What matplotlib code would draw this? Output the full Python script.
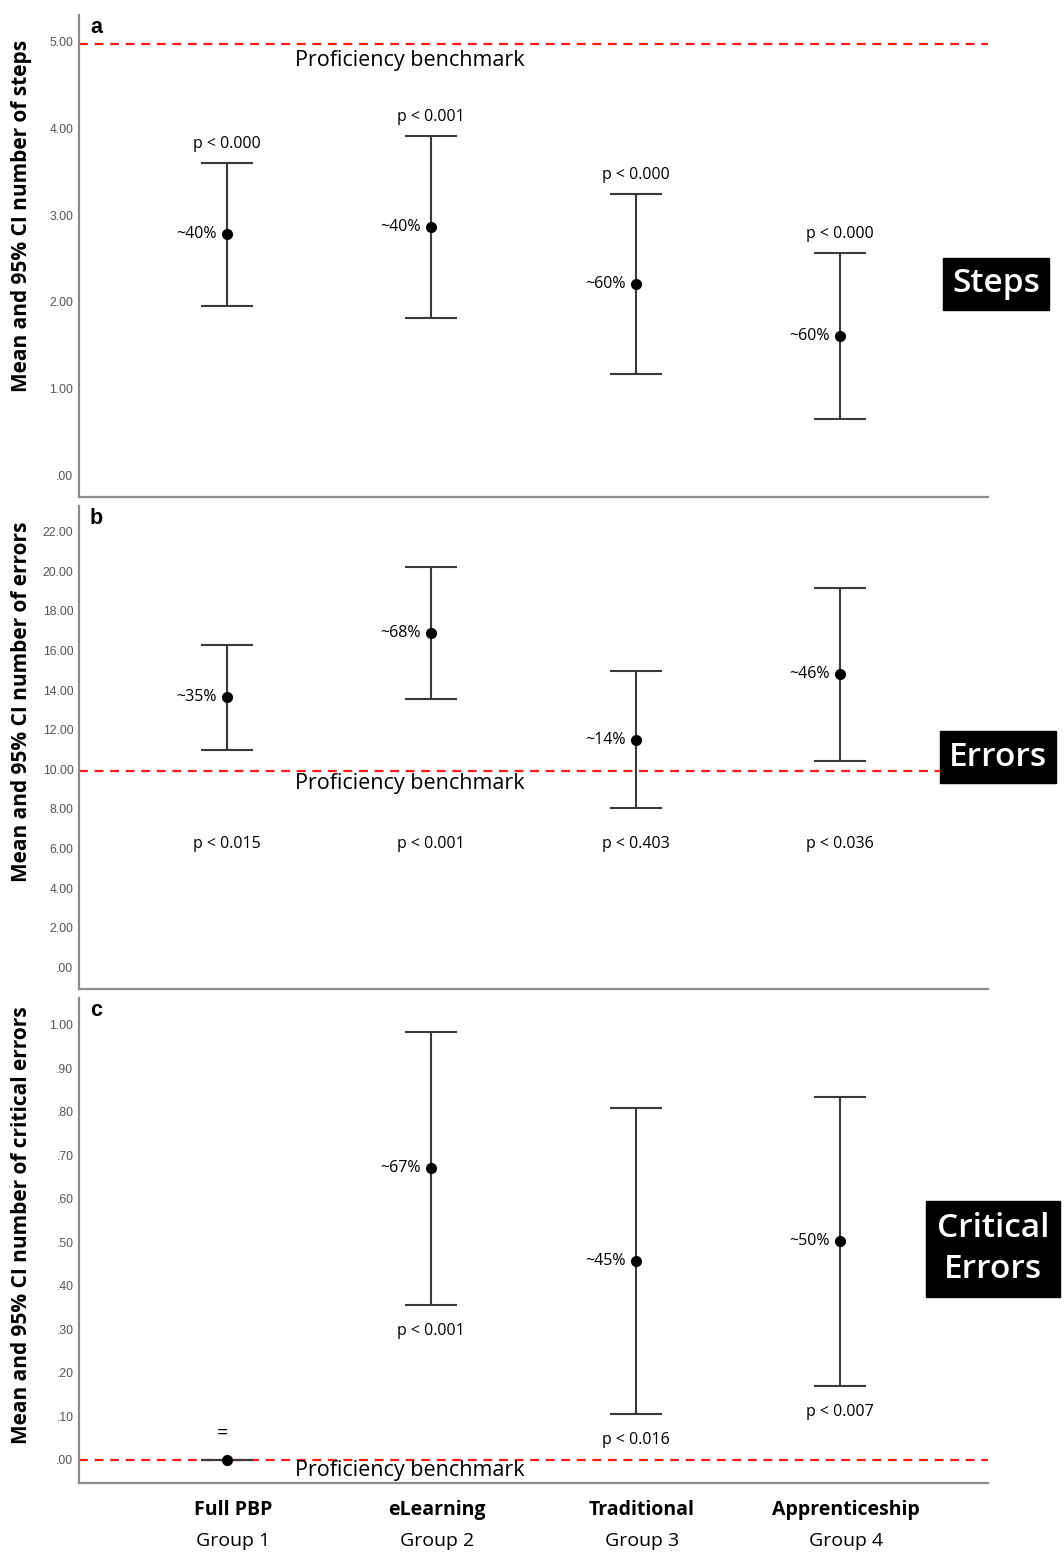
import matplotlib
matplotlib.use("Agg")
import matplotlib.pyplot as plt
import matplotlib.transforms as mtransforms

plt.rcParams['font.family'] = ['Open Sans', 'DejaVu Sans']

# groups
groups = ["Full PBP", "eLearning", "Traditional", "Apprenticeship"]
group_nums = ["Group 1", "Group 2", "Group 3", "Group 4"]
xpos = [1, 2, 3, 4]

# panel a: steps
steps_mean = [2.78, 2.86, 2.21, 1.61]
steps_low = [1.95, 1.81, 1.17, 0.65]
steps_high = [3.60, 3.91, 3.24, 2.56]
steps_pct = ["~40%", "~40%", "~60%", "~60%"]
steps_p = ["p < 0.000", "p < 0.001", "p < 0.000", "p < 0.000"]
steps_bench = 4.97

# panel b: errors
err_mean = [13.66, 16.90, 11.48, 14.82]
err_low = [10.98, 13.56, 8.04, 10.42]
err_high = [16.29, 20.20, 14.97, 19.17]
err_pct = ["~35%", "~68%", "~14%", "~46%"]
err_p = ["p < 0.015", "p < 0.001", "p < 0.403", "p < 0.036"]
err_bench = 9.9

# panel c: critical errors
crit_mean = [0.0, 0.671, 0.457, 0.503]
crit_low = [0.0, 0.356, 0.106, 0.170]
crit_high = [0.0, 0.984, 0.809, 0.834]
crit_pct = ["=", "~67%", "~45%", "~50%"]
crit_p = ["", "p < 0.001", "p < 0.016", "p < 0.007"]
crit_bench = 0.0

fig = plt.figure(figsize=(10.64, 15.54), dpi=100)
W, H = 1064, 1554


def make_ax(top, bottom):
    return fig.add_axes([79 / W, 1 - bottom / H, (988 - 79) / W, (bottom - top) / H])


def style(ax, ylim, ticks, fmt, ylabel, label_y, letter):
    ax.set_xlim(0.276, 4.725)
    ax.set_ylim(*ylim)
    ax.set_yticks(ticks)
    ax.set_yticklabels([fmt(t) for t in ticks], fontsize=8.8, color='#555555',
                       family='Liberation Sans')
    ax.set_xticks([])
    ax.tick_params(axis='y', length=0, pad=4)
    for s in ['top', 'right']:
        ax.spines[s].set_visible(False)
    for s in ['left', 'bottom']:
        ax.spines[s].set_color('#8c8c8c')
        ax.spines[s].set_linewidth(1.6)
    ax.set_ylabel(ylabel, fontsize=15, fontweight='bold')
    ax.yaxis.set_label_coords(-0.052, label_y)
    ax.text(0.012, 0.995, letter, transform=ax.transAxes, fontsize=15.5,
            fontweight='bold', family='Liberation Sans', va='top', ha='left')


def draw(ax, mean, low, high, pct, bench, bench_off):
    yerr = [[m - l for m, l in zip(mean, low)], [h - m for m, h in zip(mean, high)]]
    ax.axhline(bench, color='#ff1a1a', ls=(0, (4, 3)), lw=1.6, zorder=1)
    ax.errorbar(xpos, mean, yerr=yerr, fmt='o', color='black', ecolor='#3a3a3a',
                elinewidth=1.5, capsize=19, capthick=1.5, markersize=7, zorder=3)
    off = mtransforms.offset_copy(ax.transData, fig=fig, x=-10, y=0, units='dots')
    for x, m, t in zip(xpos, mean, pct):
        ax.text(x, m, t, transform=off, ha='right', va='center', fontsize=11.5)
    ax.text(2.0, bench, "Proficiency benchmark", fontsize=15.5, ha='center', va='top',
            transform=mtransforms.offset_copy(ax.transData, fig=fig, x=-21, y=bench_off,
                                              units='dots'))


def fmt2(t):
    s = "%.2f" % t
    return s[1:] if s.startswith("0") else s


# panel a
ax1 = make_ax(15, 497)
style(ax1, (-0.25, 5.31), [0, 1, 2, 3, 4, 5], fmt2,
      "Mean and 95% CI number of steps", 0.583, "a")
draw(ax1, steps_mean, steps_low, steps_high, steps_pct, steps_bench, -6)
up = mtransforms.offset_copy(ax1.transData, fig=fig, x=0, y=11, units='dots')
for x, h, p in zip(xpos, steps_high, steps_p):
    ax1.text(x, h, p, transform=up, ha='center', va='bottom', fontsize=11.5)

# panel b
ax2 = make_ax(506, 989)
style(ax2, (-1.1, 23.3), list(range(0, 23, 2)), fmt2,
      "Mean and 95% CI number of errors", 0.594, "b")
draw(ax2, err_mean, err_low, err_high, err_pct, err_bench, -2)
for x, p in zip(xpos, err_p):
    ax2.text(x, 6.2, p, ha='center', va='center', fontsize=11.5)

# panel c
ax3 = make_ax(998, 1483)
style(ax3, (-0.053, 1.062), [i / 10 for i in range(11)], fmt2,
      "Mean and 95% CI number of critical errors", 0.532, "c")
draw(ax3, crit_mean, crit_low, crit_high, ["", "~67%", "~45%", "~50%"], crit_bench, 0)
ax3.text(xpos[0] - 0.02, crit_mean[0] + 0.063, crit_pct[0], ha='center', va='center',
         fontsize=14)
dn = mtransforms.offset_copy(ax3.transData, fig=fig, x=0, y=-26, units='dots')
for x, l, p in zip(xpos, crit_low, crit_p):
    if p:
        ax3.text(x, l, p, transform=dn, ha='center', va='center', fontsize=11.5)

# group labels under panel c
trans = mtransforms.blended_transform_factory(ax3.transData, fig.transFigure)
for x, g, n in zip(xpos, groups, group_nums):
    ax3.text(x + 0.03, 1 - 1510 / H, g, transform=trans, ha='center', va='center',
             fontsize=14, fontweight='bold')
    ax3.text(x + 0.03, 1 - 1541 / H, n, transform=trans, ha='center', va='center',
             fontsize=14)

# black side boxes
box = dict(boxstyle='square,pad=0.28', fc='black', ec='black')
fig.text(996 / W, 1 - 284 / H, "Steps", color='white', fontsize=24, fontweight='semibold',
         ha='center', va='center', bbox=box)
fig.text(998 / W, 1 - 757 / H, "Errors", color='white', fontsize=24, fontweight='semibold',
         ha='center', va='center', bbox=box)
fig.text(993 / W, 1 - 1249 / H, "Critical\nErrors", color='white', fontsize=24,
         fontweight='semibold', ha='center', va='center', linespacing=1.3,
         bbox=dict(boxstyle='square,pad=0.33', fc='black', ec='black'))

fig.savefig("out.png", dpi=100)
